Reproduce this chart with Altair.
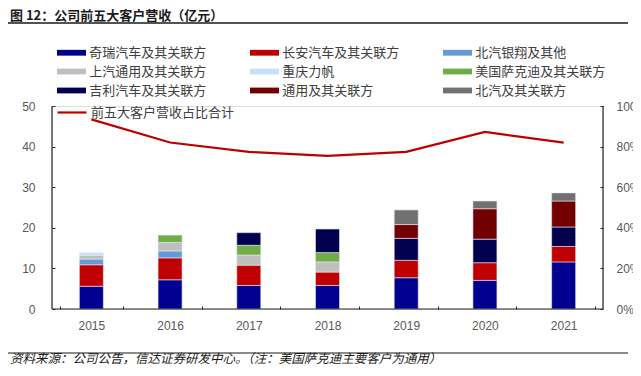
import altair as alt
import pandas as pd

years = ["2015", "2016", "2017", "2018", "2019", "2020", "2021"]
customers = [
    "奇瑞汽车及其关联方", "长安汽车及其关联方", "北汽银翔及其他",
    "上汽通用及其关联方", "重庆力帆", "美国萨克迪及其关联方",
    "吉利汽车及其关联方", "通用及其关联方", "北汽及其关联方",
]
colors = ["#000090", "#C00000", "#629BD6", "#BFBFBF", "#C5E1F8",
          "#70AD47", "#00004F", "#720000", "#717171"]

chery = [5.6, 7.2, 5.8, 5.8, 7.7, 7.05, 11.6]
changan = [5.3, 5.4, 5.0, 3.3, 4.3, 4.35, 3.8]
baic_yinxiang = [1.4, 1.7, 0, 0, 0, 0, 0]
saic_gm = [0.9, 2.1, 2.5, 2.5, 0, 0, 0]
lifan = [0.65, 0, 0, 0, 0, 0, 0]
usa_saca = [0, 1.8, 2.4, 2.3, 0, 0, 0]
geely = [0, 0, 3.1, 5.8, 5.4, 5.8, 4.8]
gm = [0, 0, 0, 0, 3.4, 7.5, 6.4]
baic = [0, 0, 0, 0, 3.6, 1.9, 2.0]
series = [chery, changan, baic_yinxiang, saic_gm, lifan, usa_saca, geely, gm, baic]

ratio = [93.4, 82.0, 77.4, 75.4, 77.4, 87.2, 82.0]
line_label = "前五大客户营收占比合计"

left_ticks = [0, 10, 20, 30, 40, 50]
right_ticks = [0, 20, 40, 60, 80, 100]

title_text = "图 12：公司前五大客户营收（亿元）"
source_text = "资料来源：公司公告，信达证券研发中心。（注：美国萨克迪主要客户为通用）"

rows = []
for i, (name, vals) in enumerate(zip(customers, series)):
    for y, v in zip(years, vals):
        if v > 0:
            rows.append({"year": y, "customer": name, "value": v, "idx": i})
df_bar = pd.DataFrame(rows)
df_line = pd.DataFrame({"year": years, "ratio": ratio, "series": line_label})

W, H = 551, 203
CJK = "Noto Sans CJK SC"
AX = "#262626"
LAB = "#595959"

xscale = alt.Scale(domain=years, paddingInner=0.2, paddingOuter=0.1)

bars = alt.Chart(df_bar).mark_bar(size=24, stroke="#E6E6F2", strokeWidth=0.6).encode(
    x=alt.X("year:N", sort=years, scale=xscale, title=None,
            axis=alt.Axis(labelAngle=0, domain=False, tickBand="extent", tickSize=3,
                          offset=-3, tickColor=AX, tickWidth=1, labelPadding=11,
                          labelFont="Liberation Sans", labelFontSize=12, labelColor=LAB)),
    y=alt.Y("value:Q", stack="zero", scale=alt.Scale(domain=[0, 50], nice=False), title=None,
            axis=alt.Axis(values=left_ticks, grid=False, domain=False, tickSize=3, offset=-3,
                          tickColor=AX, labelPadding=17, labelFont="Liberation Sans",
                          labelFontSize=12, labelColor=LAB)),
    fill=alt.Fill("customer:N", scale=alt.Scale(domain=customers, range=colors),
                  legend=alt.Legend(title=None, orient="none", legendX=12, legendY=-61,
                                    direction="horizontal", columns=3, columnPadding=43,
                                    rowPadding=4,
                                    symbolType="M-2,-0.4H2V0.4H-2Z", symbolSize=210,
                                    symbolStrokeWidth=0, labelOffset=10.25,
                                    labelFont=CJK, labelFontSize=13, labelColor="#404040",
                                    labelLimit=300)),
    order=alt.Order("idx:Q", sort="ascending"),
)

line = alt.Chart(df_line).mark_line(strokeWidth=2.2).encode(
    x=alt.X("year:N", sort=years, scale=xscale, title=None),
    y=alt.Y("ratio:Q", scale=alt.Scale(domain=[0, 100], nice=False), title=None,
            axis=alt.Axis(orient="right", values=right_ticks, grid=False, domain=False,
                          tickSize=3, offset=-3, tickColor=AX, labelPadding=13,
                          labelExpr="datum.value + '%'", labelFont="Liberation Sans",
                          labelFontSize=12, labelColor=LAB)),
    stroke=alt.Stroke("series:N", scale=alt.Scale(domain=[line_label], range=["#C00000"]),
                      legend=alt.Legend(title=None, orient="none", legendX=4, legendY=-9.5,
                                        symbolType="stroke", symbolSize=841,
                                        symbolStrokeWidth=2.2, labelOffset=3,
                                        labelFont=CJK, labelFontSize=13, labelColor="#404040",
                                        labelLimit=300)),
)

one = pd.DataFrame({"t": [title_text], "s": [source_text]})

domains = alt.layer(
    alt.Chart(one).mark_rule(color=AX, strokeWidth=1.2).encode(
        x=alt.value(0), y=alt.value(0), y2=alt.value(H)),
    alt.Chart(one).mark_rule(color=AX, strokeWidth=1.2).encode(
        x=alt.value(W), y=alt.value(0), y2=alt.value(H)),
    alt.Chart(one).mark_rule(color=AX, strokeWidth=1.2).encode(
        x=alt.value(0), x2=alt.value(W), y=alt.value(H)),
)

title = alt.Chart(one).mark_text(font=CJK, fontSize=13, fontWeight="bold", align="left",
                                 baseline="middle", color="#1a1a1a").encode(
    x=alt.value(-42), y=alt.value(-90), text="t:N")
top_rule = alt.Chart(one).mark_rule(color="#1a1a1a", strokeWidth=1.5).encode(
    x=alt.value(-44), x2=alt.value(576), y=alt.value(-83))
bottom_rule = alt.Chart(one).mark_rule(color="#1a1a1a", strokeWidth=1.2).encode(
    x=alt.value(-44), x2=alt.value(576), y=alt.value(247))
source = alt.Chart(one).mark_text(font=CJK, fontSize=12.5, fontStyle="italic", align="left",
                                  baseline="middle", color="#1a1a1a").encode(
    x=alt.value(-42), y=alt.value(253), text="s:N")

chart = alt.layer(bars, line, domains, title, top_rule, bottom_rule, source).resolve_scale(
    y="independent", fill="independent", stroke="independent"
).properties(
    width=W, height=H,
    autosize=alt.AutoSizeParams(type="none"),
    padding={"left": 44, "top": 98, "right": 30, "bottom": 59},
).configure_view(stroke=None).configure(background="white")

chart.save("out.html", embed_options={"renderer": "svg", "actions": False})
